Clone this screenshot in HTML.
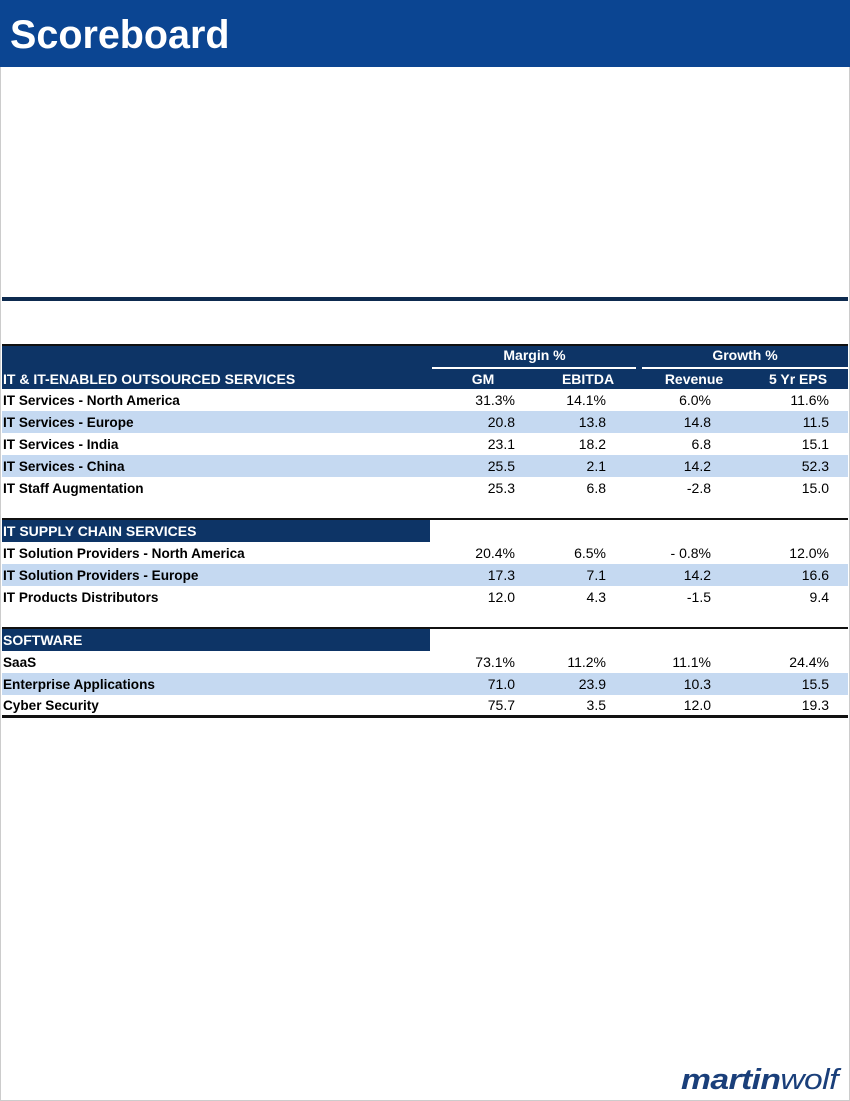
<!DOCTYPE html>
<html><head><meta charset="utf-8"><style>
body{margin:0;width:850px;height:1101px;position:relative;background:#fff;font-family:"Liberation Sans",Arial,sans-serif;overflow:hidden}
.a{position:absolute}
.hdr{left:0;top:0;width:850px;height:67px;background:#0b4592}
.t{left:10px;top:13px;font-size:39.5px;font-weight:bold;color:#fff}
.row{position:absolute;left:2px;width:846px;height:22px;font-size:14px;line-height:22px;color:#000}
.row .l{position:absolute;left:1px;font-weight:bold;transform:scaleX(0.97);transform-origin:left}
.row span.n{position:absolute;text-align:right;width:80px}
.c1{left:433px}.c2{left:524px}.c3{left:629px}.c4{left:747px}
.blue{background:#c5d9f1}
.sec{position:absolute;left:2px;width:428px;height:22px;background:#0d3466;color:#fff;font-size:14px;line-height:23px;font-weight:bold;padding-left:1px;box-sizing:border-box}
.line{position:absolute;left:2px;width:846px;background:#111}
.h2{font-weight:bold;color:#fff;font-size:14px;position:absolute}
</style></head><body>
<div class="a" style="left:0;top:0;width:848px;height:1099px;border:1px solid #ccc"></div>
<div class="a hdr"></div>
<div class="a t">Scoreboard</div>
<div class="a" style="left:2px;top:297px;width:846px;height:4px;background:#0d2a4f"></div>

<div class="a" style="left:2px;top:344px;width:846px;height:45px;background:#0d3466;border-top:2px solid #111;box-sizing:border-box"></div>
<div class="h2" style="left:432px;top:347px;width:205px;text-align:center">Margin %</div>
<div class="h2" style="left:642px;top:347px;width:206px;text-align:center">Growth %</div>
<div class="a" style="left:432px;top:367px;width:204px;height:2px;background:#fff"></div>
<div class="a" style="left:642px;top:367px;width:206px;height:2px;background:#fff"></div>
<div class="h2" style="left:3px;top:371px">IT &amp; IT-ENABLED OUTSOURCED SERVICES</div>
<div class="h2" style="left:433px;top:371px;width:100px;text-align:center">GM</div>
<div class="h2" style="left:538px;top:371px;width:100px;text-align:center">EBITDA</div>
<div class="h2" style="left:644px;top:371px;width:100px;text-align:center">Revenue</div>
<div class="h2" style="left:748px;top:371px;width:100px;text-align:center">5 Yr EPS</div>

<div class="row" style="top:389px"><span class="l">IT Services - North America</span><span class="n c1">31.3%</span><span class="n c2">14.1%</span><span class="n c3">6.0%</span><span class="n c4">11.6%</span></div>
<div class="row blue" style="top:411px"><span class="l">IT Services - Europe</span><span class="n c1">20.8</span><span class="n c2">13.8</span><span class="n c3">14.8</span><span class="n c4">11.5</span></div>
<div class="row" style="top:433px"><span class="l">IT Services - India</span><span class="n c1">23.1</span><span class="n c2">18.2</span><span class="n c3">6.8</span><span class="n c4">15.1</span></div>
<div class="row blue" style="top:455px"><span class="l">IT Services - China</span><span class="n c1">25.5</span><span class="n c2">2.1</span><span class="n c3">14.2</span><span class="n c4">52.3</span></div>
<div class="row" style="top:477px"><span class="l">IT Staff Augmentation</span><span class="n c1">25.3</span><span class="n c2">6.8</span><span class="n c3">-2.8</span><span class="n c4">15.0</span></div>

<div class="line" style="top:518px;height:2px"></div>
<div class="sec" style="top:520px">IT SUPPLY CHAIN SERVICES</div>
<div class="row" style="top:542px"><span class="l">IT Solution Providers - North America</span><span class="n c1">20.4%</span><span class="n c2">6.5%</span><span class="n c3">- 0.8%</span><span class="n c4">12.0%</span></div>
<div class="row blue" style="top:564px"><span class="l">IT Solution Providers - Europe</span><span class="n c1">17.3</span><span class="n c2">7.1</span><span class="n c3">14.2</span><span class="n c4">16.6</span></div>
<div class="row" style="top:586px"><span class="l">IT Products Distributors</span><span class="n c1">12.0</span><span class="n c2">4.3</span><span class="n c3">-1.5</span><span class="n c4">9.4</span></div>

<div class="line" style="top:627px;height:2px"></div>
<div class="sec" style="top:629px">SOFTWARE</div>
<div class="row" style="top:651px"><span class="l">SaaS</span><span class="n c1">73.1%</span><span class="n c2">11.2%</span><span class="n c3">11.1%</span><span class="n c4">24.4%</span></div>
<div class="row blue" style="top:673px"><span class="l">Enterprise Applications</span><span class="n c1">71.0</span><span class="n c2">23.9</span><span class="n c3">10.3</span><span class="n c4">15.5</span></div>
<div class="row" style="top:694px"><span class="l">Cyber Security</span><span class="n c1">75.7</span><span class="n c2">3.5</span><span class="n c3">12.0</span><span class="n c4">19.3</span></div>
<div class="line" style="top:715px;height:3px"></div>

<div class="a" style="left:681px;top:1064px;font-size:29px;color:#1a3f7a;font-style:italic;letter-spacing:-0.5px;transform:scaleX(1.16);transform-origin:left"><b style="font-weight:900">martin</b><span>wolf</span></div>
</body></html>
